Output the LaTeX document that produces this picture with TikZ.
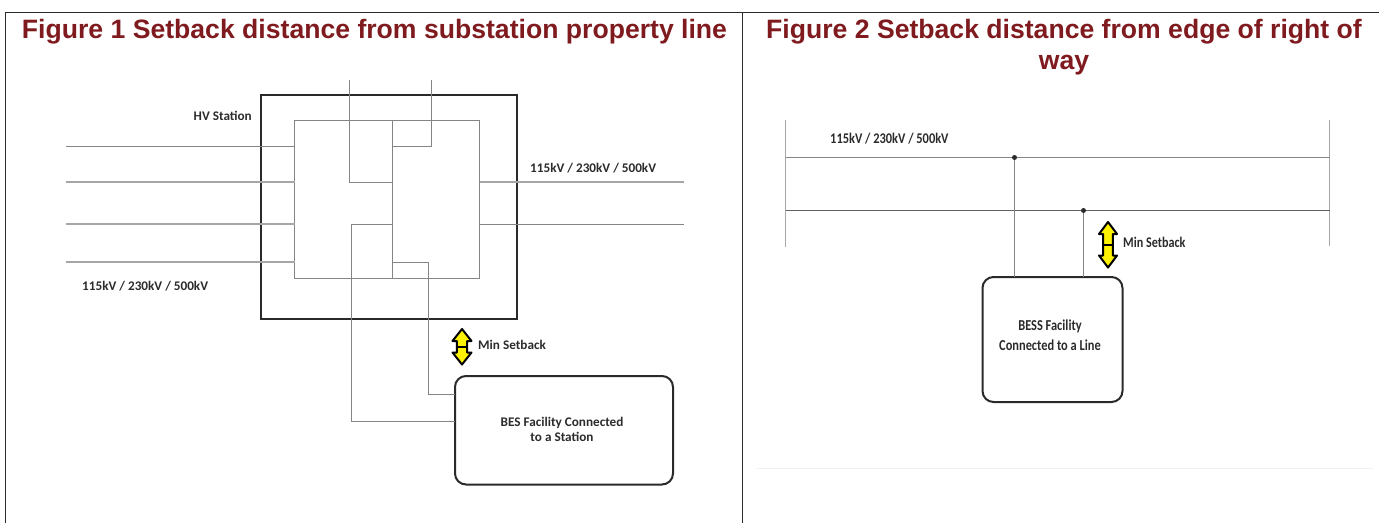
\documentclass[tikz,border=0pt]{standalone}
\usepackage{fontspec}
\setmainfont{Liberation Sans}
\newfontfamily\labelfont{Carlito}
\definecolor{titlered}{HTML}{7F1A1E}
\definecolor{wirethin}{HTML}{858585}
\definecolor{wirewide}{HTML}{A6A6A6}
\definecolor{framec}{HTML}{2A2A2A}
\definecolor{boxc}{HTML}{2A2A2A}
\definecolor{txtc}{HTML}{2B2B2B}
\tikzset{
  x=1pt,y=-1pt,
  frameline/.style={draw=framec,line width=1.4pt},
  faintline/.style={draw=black!6,line width=0.8pt},
  title/.style={font=\bfseries\fontsize{26.6}{30}\selectfont,text=titlered,inner sep=0pt,align=center},
  lab/.style={font=\labelfont\bfseries\fontsize{13.2}{15}\selectfont,text=txtc,inner sep=0pt,align=center},
  stationbox/.style={draw=boxc,line width=2.2pt,minimum width=256pt,minimum height=224pt,inner sep=0pt,outer sep=0pt,anchor=north west},
  busbox/.style={draw=wirethin,line width=1.2pt,inner sep=0pt,outer sep=0pt,anchor=north west},
  facility/.style={draw=boxc,line width=2pt,rounded corners=11pt,inner sep=0pt,outer sep=0pt,anchor=north west},
  wire/.style={draw=wirethin,line width=1.2pt},
  wwire/.style={draw=wirewide,line width=2pt},
  dotn/.style={circle,fill=boxc,inner sep=0pt,minimum size=5pt},
  setarrow/.style={draw=black,fill=yellow,line width=2pt,line join=round}
}
\newcommand{\setbackarrow}[5]{% name, x, top, bottom, half-width
  \pgfmathsetmacro{\ymid}{(#3+#4)/2}
  \path[setarrow] (#2,#3) -- (#2+#5,#3+12) -- (#2+#5*0.55,#3+12) -- (#2+#5*0.55,#4-12) -- (#2+#5,#4-12) -- (#2,#4) -- (#2-#5,#4-12) -- (#2-#5*0.55,#4-12) -- (#2-#5*0.55,#3+12) -- (#2-#5,#3+12) -- cycle;
  \draw[black,line width=2.2pt] (#2-#5*0.5,\ymid) -- (#2+#5*0.5,\ymid);
  \coordinate (#1) at (#2,\ymid);
}
\begin{document}
\begin{tikzpicture}
\useasboundingbox (0,0) rectangle (1379,523);
% frame
\coordinate (fTL) at (5.5,12.3);
\coordinate (fTM) at (742.5,12.3);
\coordinate (fTR) at (1379,12.3);
\coordinate (fBL) at (5.5,523);
\coordinate (fBM) at (742.5,523);
\draw[frameline] (fBL) -- (fTL) -- (fTR);
\draw[frameline] (fTM) -- (fBM);
\coordinate (fa) at (757,468);
\coordinate (fb) at (1373,468);
\draw[faintline] (fa) -- (fb);
% titles
\node[title] (t1) at (374.5,32) {Figure 1 Setback distance from substation property line};
\node[title] (t2) at (1064,47) {Figure 2 Setback distance from edge of right of\\[0.6pt]way};
% figure 1
\node[stationbox] (station) at (261,95) {};
\node[busbox,minimum width=185pt,minimum height=158pt] (busa) at (294.5,120.5) {};
\coordinate (bt) at (392.5,120.5);
\coordinate (bb) at (392.5,278.5);
\draw[wire] (bt) -- (bb);
\coordinate (la) at (66,146.5);  \coordinate (lb) at (294.5,146.5);
\coordinate (lc) at (66,182);  \coordinate (ld) at (294.5,182);
\coordinate (le) at (66,224);  \coordinate (lf) at (294.5,224);
\coordinate (lg) at (66,262);  \coordinate (lh) at (294.5,262);
\draw[wire] (la) -- (lb);
\draw[wwire] (lc) -- (ld);
\draw[wwire] (le) -- (lf);
\draw[wwire] (lg) -- (lh);
\coordinate (ra) at (479.5,182); \coordinate (rb) at (684,182);
\coordinate (rc) at (479.5,224.5); \coordinate (rd) at (684,224.5);
\draw[wwire] (ra) -- (rb);
\draw[wire] (rc) -- (rd);
\node[facility,minimum width=218pt,minimum height=108.5pt] (bes) at (455,376) {};
\coordinate (ua) at (349.5,80); \coordinate (ub) at (349.5,182.5); \coordinate (uc) at (392.5,182.5);
\draw[wire] (ua) -- (ub) -- (uc);
\coordinate (va) at (431.5,80); \coordinate (vb) at (431.5,146.5); \coordinate (vc) at (392.5,146.5);
\draw[wire] (va) -- (vb) -- (vc);
\coordinate (wa) at (392.5,224.5); \coordinate (wb) at (351.5,224.5); \coordinate (wc) at (351.5,421.5); \coordinate (wd) at (455,421.5);
\draw[wire] (wa) -- (wb) -- (wc) -- (wd);
\coordinate (xa) at (392.5,262.5); \coordinate (xb) at (428.5,262.5); \coordinate (xc) at (428.5,394.5); \coordinate (xd) at (455,394.5);
\draw[wire] (xa) -- (xb) -- (xc) -- (xd);
\setbackarrow{arra}{462}{329}{364.5}{9.5}
\node[lab,anchor=east] (hv) at (252,116) {HV Station};
\node[lab,anchor=west] (vr) at (530,168) {115kV / 230kV / 500kV};
\node[lab,anchor=west] (vl) at (82,286) {115kV / 230kV / 500kV};
\node[lab,anchor=west] (ms1) at (478,345) {Min Setback};
\node[lab] (bestxt) at (562,429.5) {BES Facility Connected\\[0.4pt]to a Station};
% figure 2
\coordinate (pa) at (785.5,120); \coordinate (pb) at (785.5,247);
\coordinate (qa) at (1329.5,120);  \coordinate (qb) at (1329.5,246);
\draw[wwire,line width=1.6pt] (pa) -- (pb);
\draw[wwire,line width=1.6pt] (qa) -- (qb);
\coordinate (m1) at (785.5,157.5); \coordinate (m2) at (1329.5,157.5);
\coordinate (n1) at (785.5,210.5); \coordinate (n2) at (1329.5,210.5);
\draw[wire] (m1) -- (m2);
\draw[wire,draw=black!62] (n1) -- (n2);
\node[facility,minimum width=140pt,minimum height=125pt] (bess) at (982.5,277) {};
\node[dotn] (d1) at (1014.5,157.5) {};
\node[dotn] (d2) at (1083.5,210.5) {};
\draw[wire] (d1) -- (d1 |- bess.north);
\draw[wire] (d2) -- (d2 |- bess.north);
\setbackarrow{arrb}{1108}{222}{267.5}{9}
\node[lab,anchor=west] (v2) at (830,139) {\scalebox{0.94}[1.12]{115kV / 230kV / 500kV}};
\node[lab,anchor=west] (ms2) at (1123,242) {\scalebox{0.92}[1.12]{Min Setback}};
\node[lab] (besstxt) at (1050,335.5) {\scalebox{0.94}[1.15]{BESS Facility}\\[5pt]\scalebox{0.94}[1.15]{Connected to a Line}};
\end{tikzpicture}
\end{document}
